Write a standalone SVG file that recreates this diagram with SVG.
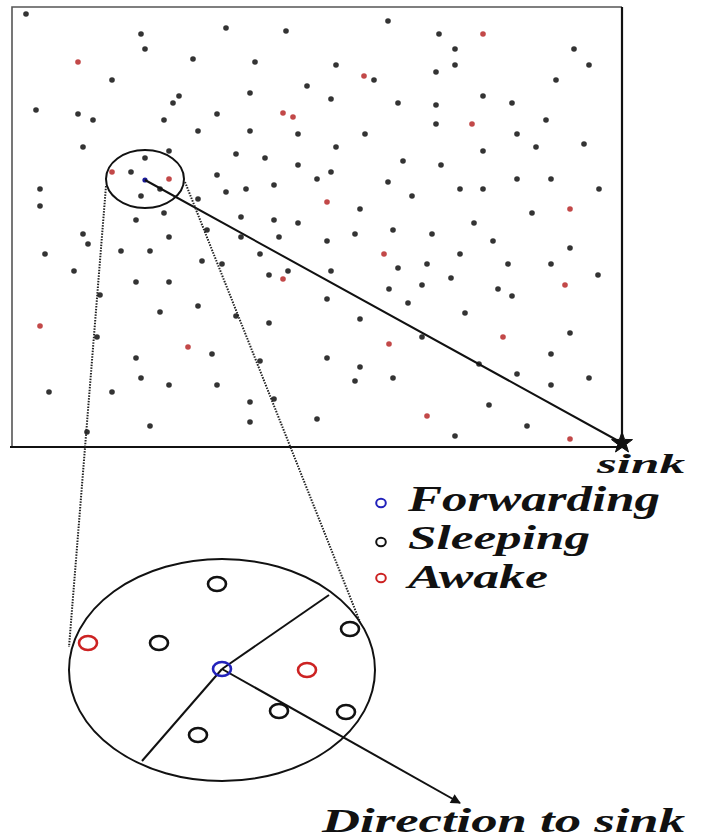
<svg xmlns="http://www.w3.org/2000/svg" width="702" height="838" viewBox="0 0 702 838">
<style>
.d{fill:#333}
.r{fill:#c24848}
.lbl{font-family:"Liberation Serif","Times New Roman",serif;font-weight:bold;font-style:italic;fill:#111}
.ln{stroke:#111;fill:none;stroke-width:2}
.dot{stroke:#222;fill:none;stroke-width:2;stroke-dasharray:1.5 1.3}
.n{fill:none;stroke-width:2.6}
</style>
<defs>
<marker id="ah" viewBox="0 0 10 10" refX="9" refY="5" markerWidth="6" markerHeight="5" orient="auto" markerUnits="strokeWidth">
<path d="M0,0 L10,5 L0,10 z" fill="#111"/>
</marker>
</defs>
<rect width="702" height="838" fill="#fff"/>
<g id="field">
<path d="M12,447 L12,7 L622,7" fill="none" stroke="#555" stroke-width="1.6"/>
<path d="M622,7 L622,447 L10,447" fill="none" stroke="#111" stroke-width="2.2"/>
<g id="sleeping-dots">
<circle class="d" cx="26" cy="14" r="2.8"/><circle class="d" cx="141" cy="34" r="2.8"/><circle class="d" cx="145" cy="49" r="2.8"/><circle class="d" cx="226" cy="28" r="2.8"/><circle class="d" cx="286" cy="31" r="2.8"/><circle class="d" cx="193" cy="59" r="2.8"/><circle class="d" cx="255" cy="62" r="2.8"/><circle class="d" cx="112" cy="80" r="2.8"/><circle class="d" cx="307" cy="86" r="2.8"/><circle class="d" cx="250" cy="93" r="2.8"/><circle class="d" cx="179" cy="96" r="2.8"/><circle class="d" cx="173" cy="103" r="2.8"/><circle class="d" cx="36" cy="110" r="2.8"/><circle class="d" cx="78" cy="114" r="2.8"/><circle class="d" cx="93" cy="120" r="2.8"/><circle class="d" cx="164" cy="120" r="2.8"/><circle class="d" cx="217" cy="114" r="2.8"/><circle class="d" cx="198" cy="131" r="2.8"/><circle class="d" cx="250" cy="131" r="2.8"/><circle class="d" cx="298" cy="134" r="2.8"/><circle class="d" cx="83" cy="147" r="2.8"/><circle class="d" cx="169" cy="151" r="2.8"/><circle class="d" cx="236" cy="154" r="2.8"/><circle class="d" cx="265" cy="158" r="2.8"/><circle class="d" cx="298" cy="165" r="2.8"/><circle class="d" cx="145" cy="158" r="2.8"/><circle class="d" cx="131" cy="172" r="2.8"/><circle class="d" cx="217" cy="175" r="2.8"/><circle class="d" cx="317" cy="179" r="2.8"/><circle class="d" cx="40" cy="189" r="2.8"/><circle class="d" cx="40" cy="206" r="2.8"/><circle class="d" cx="141" cy="196" r="2.8"/><circle class="d" cx="160" cy="189" r="2.8"/><circle class="d" cx="226" cy="192" r="2.8"/><circle class="d" cx="246" cy="189" r="2.8"/><circle class="d" cx="274" cy="185" r="2.8"/><circle class="d" cx="198" cy="199" r="2.8"/><circle class="d" cx="164" cy="213" r="2.8"/><circle class="d" cx="136" cy="220" r="2.8"/><circle class="d" cx="241" cy="217" r="2.8"/><circle class="d" cx="274" cy="220" r="2.8"/><circle class="d" cx="298" cy="223" r="2.8"/>
<circle class="d" cx="388" cy="21" r="2.8"/><circle class="d" cx="439" cy="34" r="2.8"/><circle class="d" cx="455" cy="49" r="2.8"/><circle class="d" cx="574" cy="49" r="2.8"/><circle class="d" cx="336" cy="65" r="2.8"/><circle class="d" cx="374" cy="80" r="2.8"/><circle class="d" cx="436" cy="72" r="2.8"/><circle class="d" cx="455" cy="65" r="2.8"/><circle class="d" cx="589" cy="65" r="2.8"/><circle class="d" cx="556" cy="80" r="2.8"/><circle class="d" cx="331" cy="99" r="2.8"/><circle class="d" cx="398" cy="103" r="2.8"/><circle class="d" cx="436" cy="105" r="2.8"/><circle class="d" cx="483" cy="96" r="2.8"/><circle class="d" cx="512" cy="103" r="2.8"/><circle class="d" cx="436" cy="124" r="2.8"/><circle class="d" cx="546" cy="120" r="2.8"/><circle class="d" cx="365" cy="134" r="2.8"/><circle class="d" cx="517" cy="134" r="2.8"/><circle class="d" cx="336" cy="147" r="2.8"/><circle class="d" cx="483" cy="151" r="2.8"/><circle class="d" cx="536" cy="147" r="2.8"/><circle class="d" cx="584" cy="144" r="2.8"/><circle class="d" cx="403" cy="161" r="2.8"/><circle class="d" cx="441" cy="165" r="2.8"/><circle class="d" cx="331" cy="172" r="2.8"/><circle class="d" cx="388" cy="182" r="2.8"/><circle class="d" cx="517" cy="179" r="2.8"/><circle class="d" cx="551" cy="179" r="2.8"/><circle class="d" cx="599" cy="189" r="2.8"/><circle class="d" cx="460" cy="189" r="2.8"/><circle class="d" cx="483" cy="189" r="2.8"/><circle class="d" cx="412" cy="196" r="2.8"/><circle class="d" cx="360" cy="209" r="2.8"/><circle class="d" cx="532" cy="213" r="2.8"/><circle class="d" cx="474" cy="223" r="2.8"/>
<circle class="d" cx="83" cy="234" r="2.8"/><circle class="d" cx="88" cy="244" r="2.8"/><circle class="d" cx="45" cy="254" r="2.8"/><circle class="d" cx="121" cy="251" r="2.8"/><circle class="d" cx="150" cy="251" r="2.8"/><circle class="d" cx="169" cy="237" r="2.8"/><circle class="d" cx="207" cy="230" r="2.8"/><circle class="d" cx="241" cy="237" r="2.8"/><circle class="d" cx="279" cy="237" r="2.8"/><circle class="d" cx="260" cy="254" r="2.8"/><circle class="d" cx="202" cy="261" r="2.8"/><circle class="d" cx="222" cy="264" r="2.8"/><circle class="d" cx="74" cy="271" r="2.8"/><circle class="d" cx="269" cy="275" r="2.8"/><circle class="d" cx="288" cy="271" r="2.8"/><circle class="d" cx="136" cy="282" r="2.8"/><circle class="d" cx="169" cy="282" r="2.8"/><circle class="d" cx="100" cy="295" r="2.8"/><circle class="d" cx="160" cy="312" r="2.8"/><circle class="d" cx="198" cy="306" r="2.8"/><circle class="d" cx="236" cy="316" r="2.8"/><circle class="d" cx="269" cy="323" r="2.8"/><circle class="d" cx="97" cy="337" r="2.8"/><circle class="d" cx="212" cy="354" r="2.8"/><circle class="d" cx="136" cy="358" r="2.8"/><circle class="d" cx="260" cy="361" r="2.8"/><circle class="d" cx="141" cy="378" r="2.8"/><circle class="d" cx="169" cy="385" r="2.8"/><circle class="d" cx="217" cy="385" r="2.8"/><circle class="d" cx="49" cy="392" r="2.8"/><circle class="d" cx="112" cy="392" r="2.8"/><circle class="d" cx="274" cy="399" r="2.8"/><circle class="d" cx="250" cy="402" r="2.8"/><circle class="d" cx="317" cy="419" r="2.8"/><circle class="d" cx="250" cy="422" r="2.8"/><circle class="d" cx="150" cy="426" r="2.8"/><circle class="d" cx="87" cy="432" r="2.8"/>
<circle class="d" cx="327" cy="241" r="2.8"/><circle class="d" cx="355" cy="234" r="2.8"/><circle class="d" cx="393" cy="230" r="2.8"/><circle class="d" cx="432" cy="234" r="2.8"/><circle class="d" cx="493" cy="241" r="2.8"/><circle class="d" cx="570" cy="248" r="2.8"/><circle class="d" cx="460" cy="254" r="2.8"/><circle class="d" cx="398" cy="268" r="2.8"/><circle class="d" cx="427" cy="264" r="2.8"/><circle class="d" cx="508" cy="264" r="2.8"/><circle class="d" cx="551" cy="264" r="2.8"/><circle class="d" cx="598" cy="275" r="2.8"/><circle class="d" cx="331" cy="271" r="2.8"/><circle class="d" cx="451" cy="278" r="2.8"/><circle class="d" cx="389" cy="289" r="2.8"/><circle class="d" cx="422" cy="285" r="2.8"/><circle class="d" cx="498" cy="289" r="2.8"/><circle class="d" cx="512" cy="296" r="2.8"/><circle class="d" cx="327" cy="299" r="2.8"/><circle class="d" cx="408" cy="303" r="2.8"/><circle class="d" cx="465" cy="313" r="2.8"/><circle class="d" cx="360" cy="319" r="2.8"/><circle class="d" cx="422" cy="337" r="2.8"/><circle class="d" cx="570" cy="333" r="2.8"/><circle class="d" cx="551" cy="354" r="2.8"/><circle class="d" cx="327" cy="358" r="2.8"/><circle class="d" cx="360" cy="367" r="2.8"/><circle class="d" cx="479" cy="364" r="2.8"/><circle class="d" cx="355" cy="381" r="2.8"/><circle class="d" cx="393" cy="378" r="2.8"/><circle class="d" cx="517" cy="374" r="2.8"/><circle class="d" cx="551" cy="385" r="2.8"/><circle class="d" cx="589" cy="378" r="2.8"/><circle class="d" cx="489" cy="405" r="2.8"/><circle class="d" cx="527" cy="426" r="2.8"/><circle class="d" cx="455" cy="436" r="2.8"/>
</g>
<g id="awake-dots">
<circle class="r" cx="78" cy="62" r="2.8"/><circle class="r" cx="283" cy="113" r="2.8"/><circle class="r" cx="293" cy="117" r="2.8"/><circle class="r" cx="112" cy="172" r="2.8"/><circle class="r" cx="169" cy="179" r="2.8"/><circle class="r" cx="483" cy="34" r="2.8"/><circle class="r" cx="364" cy="76" r="2.8"/><circle class="r" cx="472" cy="124" r="2.8"/><circle class="r" cx="327" cy="202" r="2.8"/><circle class="r" cx="570" cy="209" r="2.8"/><circle class="r" cx="283" cy="279" r="2.8"/><circle class="r" cx="40" cy="326" r="2.8"/><circle class="r" cx="188" cy="347" r="2.8"/><circle class="r" cx="384" cy="254" r="2.8"/><circle class="r" cx="565" cy="285" r="2.8"/><circle class="r" cx="503" cy="337" r="2.8"/><circle class="r" cx="389" cy="344" r="2.8"/><circle class="r" cx="427" cy="416" r="2.8"/><circle class="r" cx="570" cy="439" r="2.8"/>
</g>
<circle cx="145" cy="180" r="2.6" fill="#1a1a9a"/>
</g>
<g id="connectors">
<ellipse class="ln" cx="145" cy="179" rx="39" ry="29"/>
<line class="ln" x1="145" y1="180" x2="622" y2="443"/>
<line class="dot" x1="106" y1="186" x2="69" y2="647"/>
<line class="dot" x1="185" y1="182" x2="360" y2="622"/>
</g>
<g id="sink">
<polygon points="622,432 624.6,439.4 632.5,439.6 626.2,444.4 628.5,452 622,447.5 615.5,452 617.8,444.4 611.5,439.6 619.4,439.4" fill="#111" stroke="#111" stroke-width="1"/>
<text class="lbl" x="597" y="473" font-size="28" textLength="88" lengthAdjust="spacingAndGlyphs">sink</text>
</g>
<g id="legend">
<ellipse cx="381" cy="503" rx="4.8" ry="4.3" fill="none" stroke="#2222bb" stroke-width="2"/>
<text class="lbl" x="408" y="511" font-size="35" textLength="252" lengthAdjust="spacingAndGlyphs">Forwarding</text>
<ellipse cx="381" cy="542" rx="4.8" ry="4.3" fill="none" stroke="#111" stroke-width="2"/>
<text class="lbl" x="408" y="549" font-size="34" textLength="182" lengthAdjust="spacingAndGlyphs">Sleeping</text>
<ellipse cx="381" cy="578" rx="4.8" ry="4.3" fill="none" stroke="#cc2222" stroke-width="2"/>
<text class="lbl" x="408" y="588" font-size="34" textLength="140" lengthAdjust="spacingAndGlyphs">Awake</text>
</g>
<g id="zoom-circle">
<ellipse class="ln" cx="222" cy="670" rx="153" ry="111"/>
<line class="ln" x1="222" y1="669" x2="329" y2="595"/>
<line class="ln" x1="222" y1="669" x2="142" y2="761"/>
<line class="ln" x1="222" y1="669" x2="460" y2="803" marker-end="url(#ah)"/>
<ellipse class="n" cx="217" cy="584" rx="9" ry="7" stroke="#111"/>
<ellipse class="n" cx="88" cy="643" rx="9" ry="7" stroke="#cc2222"/>
<ellipse class="n" cx="159" cy="643" rx="9" ry="7" stroke="#111"/>
<ellipse class="n" cx="350" cy="629" rx="9" ry="7" stroke="#111"/>
<ellipse class="n" cx="307" cy="670" rx="9" ry="7" stroke="#cc2222"/>
<ellipse class="n" cx="279" cy="711" rx="9" ry="7" stroke="#111"/>
<ellipse class="n" cx="346" cy="712" rx="9" ry="7" stroke="#111"/>
<ellipse class="n" cx="198" cy="735" rx="9" ry="7" stroke="#111"/>
<ellipse class="n" cx="222" cy="669" rx="9" ry="7" stroke="#2222bb"/>
<text class="lbl" x="322" y="832" font-size="34" textLength="363" lengthAdjust="spacingAndGlyphs">Direction to sink</text>
</g>
</svg>
